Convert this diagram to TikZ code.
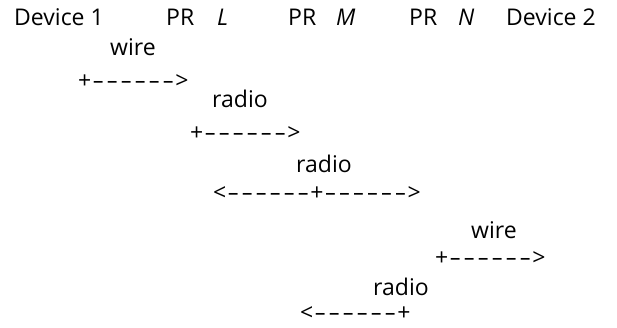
\documentclass[tikz,border=0pt]{standalone}
\usepackage{fontspec}
\setmainfont{Open Sans}
\usepackage{graphicx}
\newcommand\dsh{\makebox[14pt]{\scalebox{1.6}[1]{-}}}
\newcommand\rarr{+\dsh\dsh\dsh\dsh\dsh\dsh>}
\newcommand\larr{<\dsh\dsh\dsh\dsh\dsh\dsh+}
\newcommand\barr{<\dsh\dsh\dsh\dsh\dsh\dsh+\dsh\dsh\dsh\dsh\dsh\dsh>}
\tikzset{lbl/.style={inner sep=0pt, anchor=base west, font=\fontsize{23}{26}\selectfont}}
\begin{document}
\begin{tikzpicture}[x=1pt,y=-1pt]
\useasboundingbox (0,0) rectangle (617,327);
\node[lbl] (d1) at (14,25) {Device 1};
\node[lbl] (pr1) at (166,25) {PR};
\node[lbl] (l) at (217,25) {\textit{L}};
\node[lbl] (pr2) at (288,25) {PR};
\node[lbl] (m) at (336,25) {\textit{M}};
\node[lbl] (pr3) at (409,25) {PR};
\node[lbl] (n) at (458,25) {\textit{N}};
\node[lbl] (d2) at (506,25) {Device 2};
\node[lbl] (w1) at (110,55) {wire};
\node[lbl] (a1) at (78,88) {\rarr};
\node[lbl] (r1) at (212,107) {radio};
\node[lbl] (a2) at (190,140) {\rarr};
\node[lbl] (r2) at (296,172) {radio};
\node[lbl] (a3) at (213,200) {\barr};
\node[lbl] (w2) at (471,238) {wire};
\node[lbl] (a4) at (435,265) {\rarr};
\node[lbl] (r3) at (373,295) {radio};
\node[lbl] (a5) at (300,320) {\larr};
\end{tikzpicture}
\end{document}
